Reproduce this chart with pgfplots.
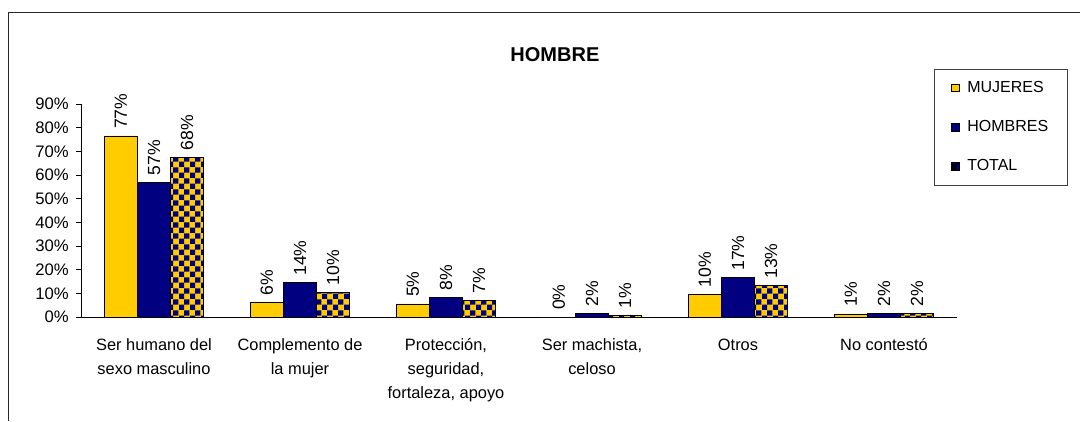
\documentclass[border=0pt]{standalone}
\usepackage{fontspec}
\setmainfont{Liberation Sans}
\usepackage{pgfplots}
\pgfplotsset{compat=1.18}
\usetikzlibrary{patterns}

\definecolor{myyellow}{HTML}{FFCC00}
\definecolor{mynavy}{HTML}{000080}

% larger checkerboard than the stock one
\pgfdeclarepatternformonly{chk}{\pgfpointorigin}{\pgfqpoint{8.4pt}{8.4pt}}{\pgfqpoint{8.4pt}{8.4pt}}{
  \pgfpathrectangle{\pgfpointorigin}{\pgfqpoint{4.2pt}{4.2pt}}
  \pgfpathrectangle{\pgfqpoint{4.2pt}{4.2pt}}{\pgfqpoint{4.2pt}{4.2pt}}
  \pgfusepath{fill}}

\begin{document}
\begin{tikzpicture}
\useasboundingbox (0,0) rectangle (810pt,-315.75pt);
\draw[black!85, line width=0.7pt] (6pt,-316pt) -- (6pt,-9pt) -- (811pt,-9pt);

\begin{axis}[
    at={(60.75pt,-237.75pt)}, anchor=south west,
    scale only axis, width=657pt, height=159.75pt,
    xmin=-0.5, xmax=5.5, ymin=0, ymax=90,
    axis x line=bottom, axis y line=left,
    axis line style={-, black, line width=0.6pt},
    /pgf/number format/assume math mode=true,
    ytick={0,10,...,90},
    yticklabel={\pgfmathprintnumber{\tick}\%},
    yticklabel style={font=\fontsize{12.5}{14}\selectfont, xshift=-2pt},
    ytick style={black, line width=0.6pt},
    tick align=outside, major tick length=3.75pt,
    xtick={0,...,5},
    xticklabels={{Ser humano del\\sexo masculino},{Complemento de\\la mujer},{Protección,\\seguridad,\\fortaleza, apoyo},{Ser machista,\\celoso},{Otros},{No contestó}},
    xticklabel style={align=center, font=\fontsize{12.3}{18}\selectfont, yshift=-9pt},
    x tick style={draw=none},
    extra x ticks={-0.5,0.5,1.5,2.5,3.5,4.5,5.5},
    extra x tick labels={},
    extra x tick style={tick style={draw=black, line width=0.6pt}},
    ybar, bar width=0.227,
    point meta=explicit,
    nodes near coords={\pgfmathprintnumber{\pgfplotspointmeta}\%},
    every node near coord/.append style={rotate=90, anchor=west, inner xsep=5pt, inner ysep=0pt,
        font=\fontsize{13.2}{14}\selectfont, black},
    title={HOMBRE},
    title style={at={(axis description cs:0.541,1.1925)}, anchor=center, font=\bfseries\fontsize{15}{18}\selectfont},
    legend style={at={(axis description cs:0.9737,1.1643)}, anchor=north west,
        draw=black!75, line width=0.6pt, font=\fontsize{12}{14}\selectfont,
        row sep=15.5pt, column sep=4pt, inner xsep=12.5pt, inner ysep=7pt},
    legend cell align=left,
    legend image code/.code={\draw[#1, line width=0.5pt] (0pt,-2.8pt) rectangle (5.6pt,2.8pt);},
]
\addplot[bar shift=-0.227, fill=myyellow, draw=black, line width=0.6pt] coordinates {
    (0,76.5) [77] (1,6.2) [6] (2,5.5) [5] (3,0) [0] (4,9.6) [10] (5,1.3) [1]
};
\addlegendentry{MUJERES}
\addplot[bar shift=0, fill=mynavy, draw=black, line width=0.6pt] coordinates {
    (0,57) [57] (1,14.5) [14] (2,8.3) [8] (3,1.5) [2] (4,16.6) [17] (5,1.4) [2]
};
\addlegendentry{HOMBRES}
\addplot[bar shift=0.227, fill=myyellow, postaction={pattern=chk, pattern color=mynavy}, draw=black, line width=0.6pt,
    legend image code/.code={
        \fill[myyellow] (0pt,-2.8pt) rectangle (3.4pt,2.8pt);
        \fill[mynavy] (3.4pt,-2.8pt) rectangle (5.6pt,2.8pt);
        \draw[black, line width=0.5pt] (0pt,-2.8pt) rectangle (5.6pt,2.8pt);}] coordinates {
    (0,67.5) [68] (1,10.3) [10] (2,6.9) [7] (3,0.8) [1] (4,13.2) [13] (5,1.5) [2]
};
\addlegendentry{TOTAL}
\end{axis}
\end{tikzpicture}
\end{document}
